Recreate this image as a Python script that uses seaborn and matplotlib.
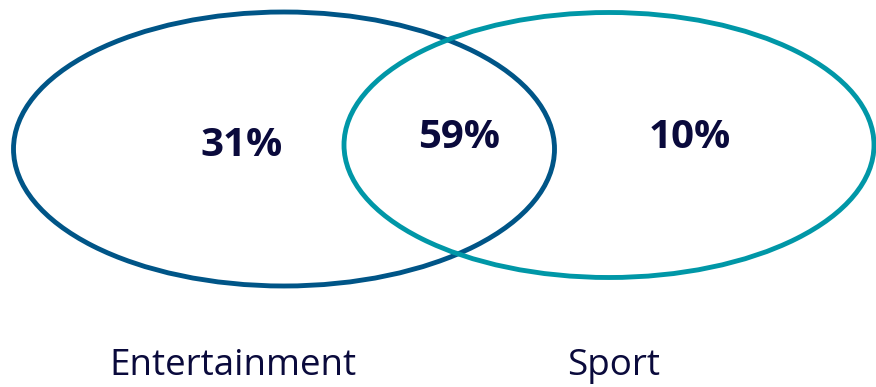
import matplotlib
matplotlib.use("Agg")
import matplotlib.pyplot as plt
from matplotlib.patches import Ellipse
import seaborn as sns

# Data
sets = ["Entertainment", "Sport"]
region_labels = ["Entertainment only", "Both", "Sport only"]
region_values = [31, 59, 10]

sns.set_theme(style="white")
plt.rcParams['font.family'] = ['Open Sans', 'DejaVu Sans']

W, H = 876, 387
fig = plt.figure(figsize=(W / 100, H / 100), dpi=100)
ax = fig.add_axes([0, 0, 1, 1])
ax.set_xlim(0, W)
ax.set_ylim(H, 0)
ax.set_axis_off()

colors = ["#005587", "#0097A7"]
text_color = "#0a0a3c"

# ellipse geometry (layout)
ell = [dict(xy=(284, 149), w=541, h=274), dict(xy=(609, 145), w=530, h=265)]
for e, c in zip(ell, colors):
    ax.add_patch(Ellipse(e["xy"], e["w"], e["h"], fill=False, edgecolor=c, lw=3.5))

region_pos = [(242, 145), (459, 138), (690, 138)]
for (x, y), v in zip(region_pos, region_values):
    ax.text(x, y, f"{v}%", ha="center", va="center", fontsize=29,
            fontweight="bold", color=text_color)

set_label_pos = [(233, 366), (614, 366)]
for (x, y), s in zip(set_label_pos, sets):
    ax.text(x, y, s, ha="center", va="center", fontsize=26.5, color=text_color)

fig.savefig("out.png", dpi=100, facecolor="white")
